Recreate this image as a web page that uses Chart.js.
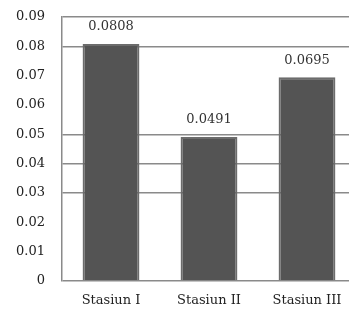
<!DOCTYPE html>
<html>
<head>
<meta charset="utf-8">
<script src="https://cdn.jsdelivr.net/npm/chart.js@4"></script>
<style>
  html, body { margin: 0; padding: 0; background: #fff; overflow: hidden; }
  #wrap { width: 356px; height: 311px; }
</style>
</head>
<body>
<div id="wrap"><canvas id="barChart" width="356" height="311"></canvas></div>
<script>
// Data
const stations = ['Stasiun I', 'Stasiun II', 'Stasiun III'];
const values = [0.0808, 0.0491, 0.0695];
const valueLabels = ['0.0808', '0.0491', '0.0695'];
const yTicks = [0, 0.01, 0.02, 0.03, 0.04, 0.05, 0.06, 0.07, 0.08, 0.09];

// garis grid yang kelihatan di gambar
const visibleGrid = [0, 0.03, 0.04, 0.05, 0.08, 0.09];

const fontFamily = '"DejaVu Serif", "Liberation Serif", serif';

// Label nilai di atas batang
const valueLabelPlugin = {
    id: 'valueLabels',
    afterDatasetsDraw(chart) {
        const c = chart.ctx;
        const meta = chart.getDatasetMeta(0);
        c.save();
        c.font = '13px ' + fontFamily;
        c.fillStyle = '#333';
        c.textAlign = 'center';
        c.textBaseline = 'middle';
        meta.data.forEach((bar, i) => {
            c.fillText(valueLabels[i], bar.x, bar.y - 17);
        });
        c.restore();
    }
};

new Chart(document.getElementById('barChart'), {
    type: 'bar',
    data: {
        labels: stations,
        datasets: [{
            data: values,
            backgroundColor: '#545454',
            borderColor: '#6c6c6c',
            borderWidth: 2,
            borderSkipped: 'bottom',
            barPercentage: 0.58,
            categoryPercentage: 1
        }]
    },
    options: {
        responsive: false,
        animation: false,
        layout: { padding: { top: 17, left: 0, right: 0, bottom: 0 } },
        plugins: {
            legend: { display: false },
            tooltip: { enabled: false }
        },
        scales: {
            x: {
                grid: { display: false, drawTicks: false },
                border: { display: false },
                ticks: {
                    color: '#222',
                    padding: 12,
                    font: { family: fontFamily, size: 13 }
                },
                afterFit: (scale) => { scale.height = 30; }
            },
            y: {
                min: 0,
                max: 0.09,
                afterBuildTicks: (scale) => {
                    scale.ticks = yTicks.map(v => ({ value: v }));
                },
                grid: {
                    drawTicks: false,
                    color: (ctx) => visibleGrid.some(v => Math.abs(v - ctx.tick.value) < 1e-9) ? '#8a8a8a' : 'rgba(0,0,0,0)',
                    lineWidth: 1.5
                },
                border: { display: true, color: '#8a8a8a', width: 1.5 },
                ticks: {
                    color: '#222',
                    padding: 17,
                    font: { family: fontFamily, size: 13 },
                    callback: (v) => v === 0 ? '0' : v.toFixed(2)
                },
                afterFit: (scale) => {
                    scale.width = 62;
                    scale.paddingTop = 0;
                    scale.paddingBottom = 0;
                }
            }
        }
    },
    plugins: [valueLabelPlugin]
});
</script>
</body>
</html>
